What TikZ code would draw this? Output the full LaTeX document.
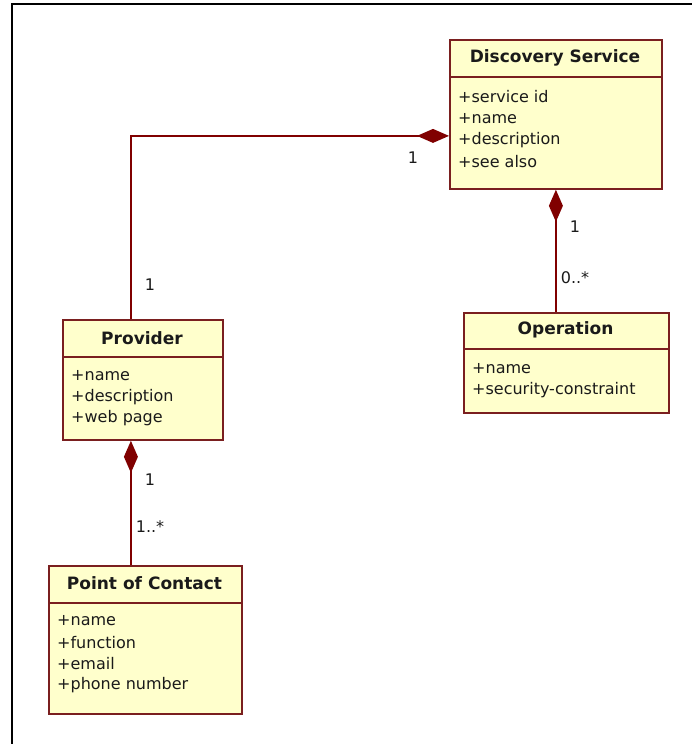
\documentclass[tikz,border=0pt]{standalone}
\usepackage{fontspec}
\setmainfont{DejaVu Sans}
\usetikzlibrary{arrows.meta}
\definecolor{clsfill}{HTML}{FFFFCC}
\definecolor{clsline}{HTML}{7A1F1F}
\definecolor{conn}{HTML}{800000}
\definecolor{txt}{HTML}{1A1A1A}
\begin{document}
\begin{tikzpicture}[x=1pt,y=-1pt,
 cls/.style={draw=clsline, fill=clsfill, line width=1.8pt, inner sep=0, anchor=north west},
 sepline/.style={draw=clsline, line width=1.6pt},
 title/.style={font=\fontsize{17}{20}\selectfont\bfseries, text=txt, inner sep=0},
 attr/.style={font=\fontsize{16}{19}\selectfont, text=txt, inner sep=0, anchor=west},
 mult/.style={font=\fontsize{16}{19}\selectfont, text=txt, inner sep=0},
 comp/.style={draw=conn, line width=1.6pt, {Diamond[length=32pt,width=14pt,fill=conn,color=conn]}-}
]
\useasboundingbox (0,0) rectangle (692,744);
\draw[line width=2.4pt] (12,744) -- (12,4) -- (692,4);

% Discovery Service
\node[cls, minimum width=212pt, minimum height=149pt] (ds) at (449,39) {};
\draw[sepline] (ds.west |- 0,77) -- (ds.east |- 0,77);
\node[title] (dst) at (555,58) {Discovery Service};
\node[attr] (ds1) at (458,97) {+service id};
\node[attr] (ds2) at (458,118.5) {+name};
\node[attr] (ds3) at (458,140) {+description};
\node[attr] (ds4) at (458,161.5) {+see also};

% Provider
\node[cls, minimum width=160pt, minimum height=120pt] (pr) at (62,319) {};
\draw[sepline] (pr.west |- 0,357) -- (pr.east |- 0,357);
\node[title] (prt) at (142,338) {Provider};
\node[attr] (pr1) at (71,375.5) {+name};
\node[attr] (pr2) at (71,397) {+description};
\node[attr] (pr3) at (71,418.5) {+web page};

% Point of Contact
\node[cls, minimum width=193pt, minimum height=148pt] (pc) at (48,565) {};
\draw[sepline] (pc.west |- 0,603) -- (pc.east |- 0,603);
\node[title] (pct) at (144.5,583) {Point of Contact};
\node[attr] (pc1) at (57,621) {+name};
\node[attr] (pc2) at (57,642.5) {+function};
\node[attr] (pc3) at (57,664) {+email};
\node[attr] (pc4) at (57,685.5) {+phone number};

% Operation
\node[cls, minimum width=205pt, minimum height=100pt] (op) at (463,312) {};
\draw[sepline] (op.west |- 0,349) -- (op.east |- 0,349);
\node[title] (opt) at (565.5,330) {Operation};
\node[attr] (op1) at (472,369) {+name};
\node[attr] (op2) at (472,390.5) {+security-constraint};

% Connector end points
\coordinate (dsl) at ([yshift=-21.5pt]ds.west);
\coordinate (prn) at ([xshift=-12pt]pr.north);
\coordinate (prs) at ([xshift=-12pt]pr.south);

% Connectors
\draw[comp] (dsl) -| (prn);
\draw[comp] (ds.south) -- (op.north -| ds.south);
\draw[comp] (prs) -- (pc.north -| prs);

% Multiplicities
\node[mult] (m1) at (413,158) {1};
\node[mult] (m2) at (150,285) {1};
\node[mult] (m3) at (575,227) {1};
\node[mult] (m4) at (575,278) {0..*};
\node[mult] (m5) at (150,480) {1};
\node[mult] (m6) at (150,527) {1..*};
\end{tikzpicture}
\end{document}
